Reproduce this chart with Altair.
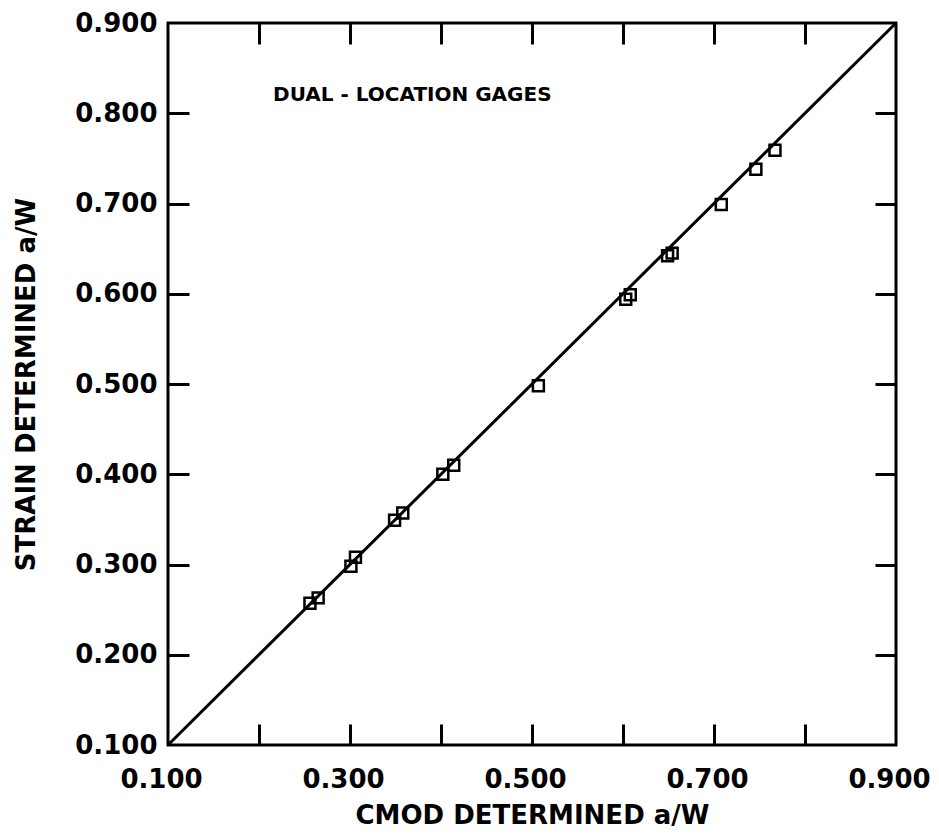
import altair as alt
import pandas as pd

# Data
cmod_aw = [0.256, 0.265, 0.301, 0.306, 0.349, 0.358, 0.402, 0.414,
           0.507, 0.603, 0.608, 0.649, 0.654, 0.708, 0.746, 0.767]
strain_aw = [0.257, 0.263, 0.298, 0.308, 0.349, 0.357, 0.400, 0.410,
             0.498, 0.594, 0.599, 0.642, 0.645, 0.699, 0.738, 0.759]

line_x = [0.1, 0.9]
line_y = [0.1, 0.9]

note_text = ["DUAL - LOCATION GAGES"]
note_x = [0.2155]
note_y = [0.82]

x_label_values = [0.1, 0.3, 0.5, 0.7, 0.9]
y_label_values = [0.1, 0.2, 0.3, 0.4, 0.5, 0.6, 0.7, 0.8, 0.9]
tick_values = [0.2, 0.3, 0.4, 0.5, 0.6, 0.7, 0.8]

pts = pd.DataFrame({"cmod": cmod_aw, "strain": strain_aw})
line_df = pd.DataFrame({"cmod": line_x, "strain": line_y})
note_df = pd.DataFrame({"cmod": note_x, "strain": note_y, "label": note_text})

FONT = "DejaVu Sans"
sx = alt.Scale(domain=[0.1, 0.9], nice=False, zero=False)
sy = alt.Scale(domain=[0.1, 0.9], nice=False, zero=False)

def tick_axis(orient):
    return alt.Axis(orient=orient, values=tick_values, ticks=True, tickSize=21,
                    tickWidth=3, tickColor="black", labels=False, domain=False,
                    grid=False, title=None, offset=-21)

points = alt.Chart(pts).mark_point(shape="square", size=120, filled=False,
                                   stroke="black", strokeWidth=2.5, opacity=1).encode(
    x=alt.X("cmod:Q", scale=sx,
            axis=alt.Axis(orient="bottom", values=x_label_values, format=".3f",
                          ticks=False, domain=False, grid=False, labelFlush=False,
                          labelFont=FONT, labelFontSize=26, labelFontWeight="bold",
                          labelColor="black", labelPadding=21, labelOffset=-7,
                          title="CMOD DETERMINED a/W", titleFont=FONT,
                          titleFontSize=26, titleFontWeight="bold",
                          titleColor="black", titlePadding=10)),
    y=alt.Y("strain:Q", scale=sy,
            axis=alt.Axis(orient="left", values=y_label_values, format=".3f",
                          ticks=False, domain=False, grid=False, labelFlush=False,
                          labelFont=FONT, labelFontSize=26, labelFontWeight="bold",
                          labelColor="black", labelPadding=11,
                          title="STRAIN DETERMINED a/W", titleFont=FONT,
                          titleFontSize=26, titleFontWeight="bold",
                          titleColor="black", titlePadding=35)),
)

line = alt.Chart(line_df).mark_line(color="black", strokeWidth=3).encode(
    x=alt.X("cmod:Q", scale=sx, axis=tick_axis("bottom")),
    y=alt.Y("strain:Q", scale=sy, axis=tick_axis("left")),
)

note = alt.Chart(note_df).mark_text(align="left", baseline="middle", font=FONT,
                                    fontSize=20, fontWeight="bold",
                                    color="black").encode(
    x=alt.X("cmod:Q", scale=sx, axis=tick_axis("top")),
    y=alt.Y("strain:Q", scale=sy, axis=tick_axis("right")),
    text="label:N",
)

chart = alt.layer(line, points, note).resolve_axis(
    x="independent", y="independent"
).properties(
    width=728, height=722,
    autosize=alt.AutoSizeParams(type="none"),
    padding={"left": 168, "top": 23, "right": 43, "bottom": 92},
    background="white",
).configure_view(stroke="black", strokeWidth=3)

chart.save("out.html", embed_options={"renderer": "svg", "actions": False})
